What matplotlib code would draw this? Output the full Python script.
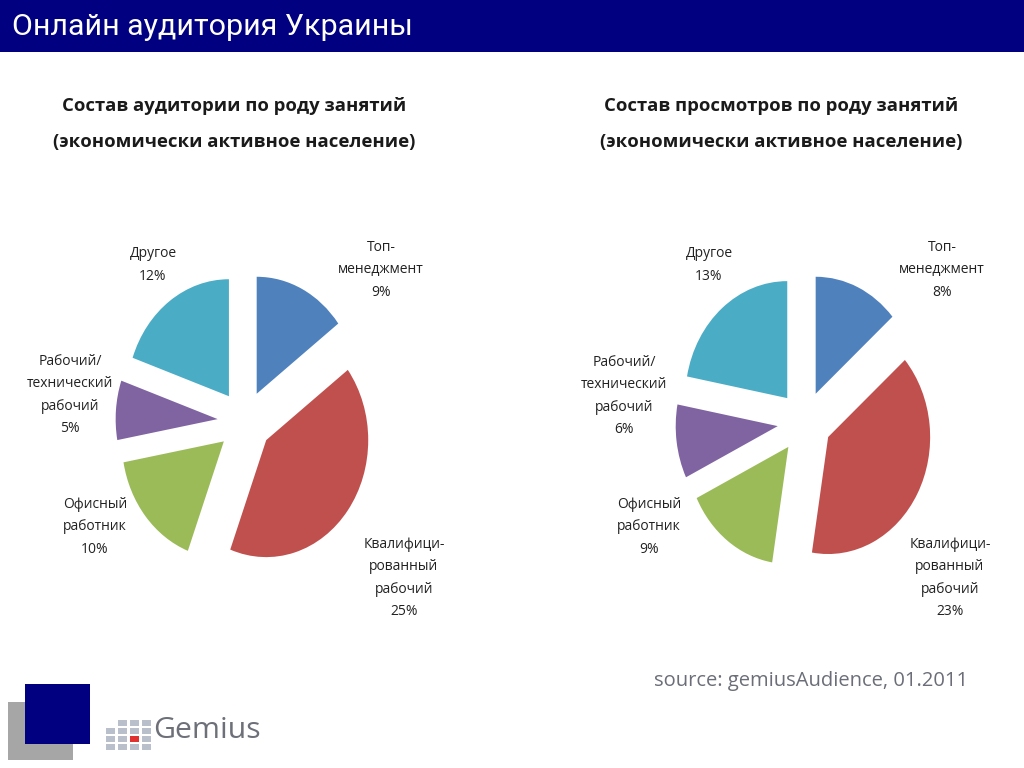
import matplotlib
matplotlib.use("Agg")
import matplotlib.pyplot as plt
from matplotlib.patches import Rectangle

plt.rcParams['font.family'] = ['Open Sans', 'DejaVu Sans']

# ---- data ----
categories = ['Топ-\nменеджмент', 'Квалифици-\nрованный\nрабочий', 'Офисный\nработник',
              'Рабочий/\nтехнический\nрабочий', 'Другое']
audience_share = [9, 25, 10, 5, 12]
views_share = [8, 23, 9, 6, 13]
colors = ['#4F81BD', '#C0504D', '#9BBB59', '#8064A2', '#4BACC6']

header_title = 'Онлайн аудитория Украины'
left_title = 'Состав аудитории по роду занятий\n(экономически активное население)'
right_title = 'Состав просмотров по роду занятий\n(экономически активное население)'
source_text = 'source: gemiusAudience, 01.2011'

W, H = 1024, 768
fig = plt.figure(figsize=(W / 100, H / 100), dpi=100)
fig.patch.set_facecolor('white')


def fx(x):
    return x / W


def fy(y):
    return 1 - y / H


# header bar
fig.patches.append(Rectangle((0, fy(52)), 1, 52 / H, transform=fig.transFigure,
                             facecolor='#000080', edgecolor='none', zorder=0))
fig.text(fx(12), fy(27), header_title, color='white', fontsize=21.9,
         va='center', ha='left', family=['Roboto', 'Open Sans', 'DejaVu Sans'])

# chart titles
for cx, t in [(234, left_title), (781, right_title)]:
    fig.text(fx(cx), fy(124), t, ha='center', va='center', fontsize=13.3,
             fontweight='bold', color='#1a1a1a', linespacing=2.3)

# pies
SX, SY = 102.0, 117.0   # pixels per unit radius (slightly elliptical as in original)
EXPLODE = 0.265
HALF = 160


def draw_pie(cx, cy, values, label_pos):
    ax = fig.add_axes([fx(cx - HALF), fy(cy + HALF), 2 * HALF / W, 2 * HALF / H])
    ax.pie(values, colors=colors, startangle=90, counterclock=False,
           explode=[EXPLODE] * len(values), radius=1.0,
           wedgeprops=dict(linewidth=0))
    ax.set_aspect('auto')
    ax.set_xlim(-HALF / SX, HALF / SX)
    ax.set_ylim(-HALF / SY, HALF / SY)
    ax.axis('off')
    for cat, v, (lx, ly) in zip(categories, values, label_pos):
        fig.text(fx(lx), fy(ly), f'{cat}\n{v}%', ha='center', va='center',
                 fontsize=10.0, color='#222222', linespacing=1.67)


left_label_pos = [(381, 270), (404, 578), (95, 527), (70, 395), (153, 265)]
right_label_pos = [(942, 270), (950, 578), (649, 527), (624, 396), (709, 265)]

draw_pie(244.6, 421.5, audience_share, left_label_pos)
draw_pie(804.5, 422.0, views_share, right_label_pos)

# source
fig.text(fx(811.5), fy(681), source_text, ha='center', va='center', fontsize=14.5,
         color='#6b6e78')

# logo decoration
fig.patches.append(Rectangle((fx(8), fy(760)), 65 / W, 58 / H, transform=fig.transFigure,
                             facecolor='#a6a6a6', edgecolor='none'))
fig.patches.append(Rectangle((fx(25), fy(744)), 65 / W, 60 / H, transform=fig.transFigure,
                             facecolor='#000080', edgecolor='none'))
cols_x = [106, 118, 130, 142]
rows_y = [720, 728, 736, 744]
for i, x0 in enumerate(cols_x):
    for j, y0 in enumerate(rows_y):
        if i == 0 and j == 0:
            continue
        c = '#e03030' if (i == 2 and j == 2) else '#b9c0cc'
        fig.patches.append(Rectangle((fx(x0), fy(y0 + 6)), 9 / W, 6 / H,
                                     transform=fig.transFigure, facecolor=c, edgecolor='none'))
fig.text(fx(153), fy(731), 'Gemius', ha='left', va='center', fontsize=21.8, color='#6d7078')

fig.savefig('out.png', dpi=100)
